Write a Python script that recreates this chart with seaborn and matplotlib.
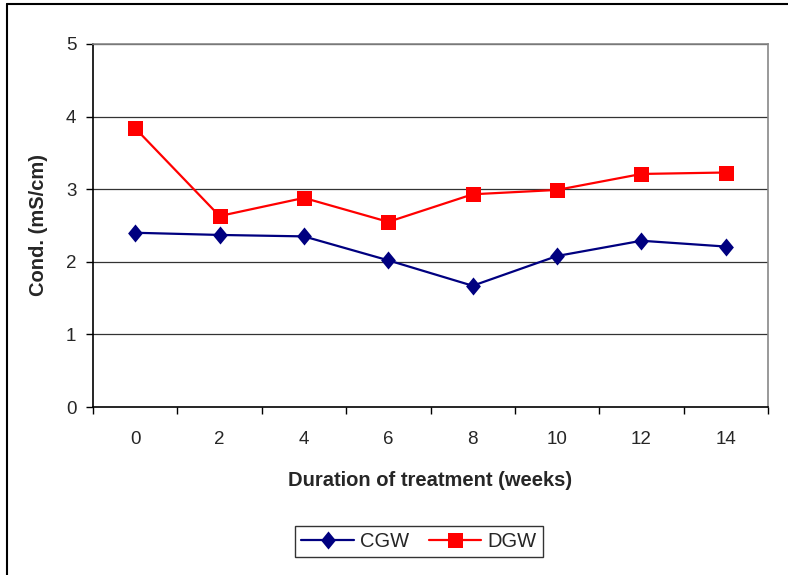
import matplotlib
matplotlib.use("Agg")
import matplotlib.pyplot as plt
from matplotlib.lines import Line2D
from matplotlib.ticker import FixedLocator, NullFormatter, FixedFormatter
import seaborn as sns
import pandas as pd

weeks = [0, 2, 4, 6, 8, 10, 12, 14]
cgw = [2.40, 2.37, 2.35, 2.02, 1.67, 2.08, 2.29, 2.21]
dgw = [3.84, 2.63, 2.88, 2.55, 2.93, 2.99, 3.21, 3.23]
series_names = ["CGW", "DGW"]
colors = {"CGW": "#000080", "DGW": "#FF0000"}
y_ticks = [0, 1, 2, 3, 4, 5]

df = pd.DataFrame({
    "week": weeks * 2,
    "cond": cgw + dgw,
    "series": [series_names[0]] * len(weeks) + [series_names[1]] * len(weeks),
})

sns.set_theme(style="white")
plt.rcParams["font.family"] = ["Liberation Sans", "DejaVu Sans"]

fig = plt.figure(figsize=(7.88, 5.75), dpi=100)
ax = fig.add_axes([93 / 788, 1 - 407 / 575, (768 - 93) / 788, (407 - 44) / 575])

tall_diamond = [(0, 1), (0.82, 0), (0, -1), (-0.82, 0), (0, 1)]
square = [(-1, -1), (1, -1), (1, 1), (-1, 1), (-1, -1)]
ms_by_series = {"CGW": 13.0, "DGW": 10.8}

sns.lineplot(data=df, x="week", y="cond", hue="series", style="series",
             palette=colors, markers={"CGW": tall_diamond, "DGW": square},
             dashes=False, markersize=12, markeredgewidth=0, linewidth=1.6,
             ax=ax, legend=False)
# adjust marker sizes per series
for line in ax.get_lines():
    c = matplotlib.colors.to_hex(line.get_color()).upper()
    if c == colors["CGW"].upper():
        line.set_markersize(ms_by_series["CGW"])
    elif c == colors["DGW"].upper():
        line.set_markersize(ms_by_series["DGW"])

ax.set_xlim(-1, 15)
ax.set_ylim(0, 5)
ax.set_yticks(y_ticks)
ax.grid(False)
for v in y_ticks[1:]:
    ax.axhline(v, color="#333333", lw=0.9, zorder=0)

# x: ticks at category boundaries, labels at category centers
ax.xaxis.set_major_locator(FixedLocator([w - 1 for w in weeks] + [15]))
ax.xaxis.set_major_formatter(NullFormatter())
ax.xaxis.set_minor_locator(FixedLocator(weeks))
ax.xaxis.set_minor_formatter(FixedFormatter([str(w) for w in weeks]))
ax.tick_params(axis="x", which="major", direction="out", length=5, width=1,
               color="black", bottom=True)
ax.tick_params(axis="x", which="minor", length=0, pad=17, labelsize=13.5,
               bottom=True)
ax.tick_params(axis="y", direction="out", length=5, width=1, color="black",
               left=True, pad=7, labelsize=13.5)

for side in ["left", "bottom"]:
    ax.spines[side].set_color("black")
    ax.spines[side].set_linewidth(1.2)
for side in ["top", "right"]:
    ax.spines[side].set_color("#888888")
    ax.spines[side].set_linewidth(1.2)

ax.set_xlabel("Duration of treatment (weeks)", fontsize=14.5, fontweight="bold",
              labelpad=17)
ax.set_ylabel("Cond. (mS/cm)", fontsize=14.5, fontweight="bold", labelpad=13)

handles = [
    Line2D([], [], color=colors["CGW"], marker=tall_diamond, markersize=ms_by_series["CGW"],
           markeredgewidth=0, lw=1.6),
    Line2D([], [], color=colors["DGW"], marker=square, markersize=ms_by_series["DGW"],
           markeredgewidth=0, lw=1.6),
]
leg = fig.legend(handles, series_names, loc="center", bbox_to_anchor=(419 / 788, 1 - 541.5 / 575),
                 ncol=2, frameon=True, fancybox=False, edgecolor="black",
                 fontsize=14.5, handlelength=2.6, columnspacing=1.0,
                 handletextpad=0.3, borderpad=0.3, numpoints=1)
leg.get_frame().set_linewidth(1.0)

# outer chart border (left and top visible)
fig.add_artist(Line2D([7 / 788, 7 / 788], [0, 1 - 4 / 575], color="black", lw=1.5,
                      transform=fig.transFigure))
fig.add_artist(Line2D([7 / 788, 1], [1 - 4 / 575, 1 - 4 / 575], color="black", lw=1.5,
                      transform=fig.transFigure))

fig.savefig("out.png", dpi=100, facecolor="white")
